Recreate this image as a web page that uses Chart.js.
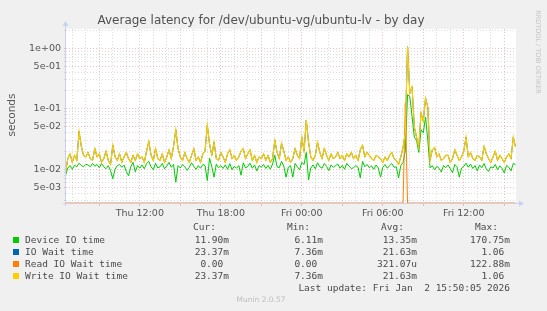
<!DOCTYPE html>
<html>
<head>
<meta charset="utf-8">
<script src="https://cdn.jsdelivr.net/npm/chart.js@4"></script>
<style>
  body { margin: 0; background: #f0f0f0; }
  #wrap { position: relative; width: 547px; height: 311px; overflow: hidden; font-family: 'DejaVu Sans', sans-serif; color: #555; }
  #wrap canvas { position: absolute; left: 0; top: 0; }
  .t { position: absolute; white-space: pre; }
  .mono { font-family: 'DejaVu Sans Mono', monospace; font-size: 9.5px; line-height: 12px; color: #4a4a4a; }
  .sq { position: absolute; width: 6px; height: 6px; }
</style>
</head>
<body>
<div id="wrap">
  <canvas id="latencyChart" width="547" height="311"></canvas>
  <div class="t" style="left:0;width:522px;text-align:center;top:12px;font-size:12px;line-height:16px;color:#505050;">Average latency for /dev/ubuntu-vg/ubuntu-lv - by day</div>
  <div class="t" style="left:-29px;top:108px;width:80px;height:14px;line-height:14px;font-size:10.5px;text-align:center;transform:rotate(-90deg);color:#555;">seconds</div>
  <div class="t" style="left:488px;top:47px;width:100px;height:10px;line-height:10px;font-size:6.5px;text-align:center;transform:rotate(90deg);color:#c4c4c4;">RRDTOOL / TOBI OETIKER</div>
  <div id="legend"></div>
  <div class="t" style="left:0;width:522px;text-align:center;top:295px;font-size:7.5px;line-height:10px;color:#bdbdbd;">Munin 2.0.57</div>
</div>
<script>
// sample times: every 10 minutes, hours counted from Thu 00:00
const startHour = 6.5;
const stepHours = 1 / 6;
const xMin = 6.533;   // Thu 06:32
const xMax = 39.867;  // Fri 15:52

// values in milliseconds
const deviceIO = [
  8.0, 10.5, 11.5, 10.0, 11.7, 11.0, 12.6, 11.5, 11.0, 12.0,
  11.8, 11.0, 12.5, 11.2, 12.0, 10.6, 12.5, 11.0, 10.2, 11.5,
  9.5, 7.0, 10.0, 11.5, 12.0, 10.8, 11.7, 9.2, 7.8, 11.0,
  13.0, 9.1, 11.5, 10.4, 11.8, 10.2, 12.4, 13.5, 11.0, 9.8,
  12.6, 10.5, 11.0, 12.5, 10.2, 11.3, 13.0, 10.8, 12.0, 6.11,
  11.5, 10.5, 12.0, 11.0, 9.6, 10.8, 12.8, 11.2, 10.0, 11.5,
  10.4, 12.0, 11.5, 6.5, 15.3, 11.0, 7.4, 12.2, 10.6, 11.5,
  10.3, 11.8, 10.0, 12.4, 9.8, 11.2, 10.4, 11.5, 8.0, 12.8,
  10.5, 11.2, 12.6, 10.4, 11.8, 9.4, 11.5, 10.8, 12.0, 10.3,
  11.6, 10.0, 12.2, 17.0, 11.0, 10.6, 13.5, 11.2, 7.4, 10.8,
  11.5, 7.4, 12.5, 11.0, 9.8, 13.0, 12.0, 19.0, 6.7, 10.5,
  11.8, 10.2, 12.8, 11.0, 10.4, 12.5, 11.2, 9.5, 11.8, 10.8,
  11.5, 12.2, 10.4, 11.6, 10.0, 12.5, 11.2, 10.3, 10.6, 11.5,
  10.8, 7.2, 13.5, 11.0, 12.0, 10.6, 11.4, 10.0, 11.8, 10.5,
  7.4, 10.8, 12.0, 10.4, 11.5, 12.4, 10.8, 11.0, 7.2, 11.5,
  13.0, 20.0, 170.75, 160.0, 75.0, 34.0, 30.0, 19.0, 45.0, 40.0,
  73.0, 30.0, 10.5, 11.5, 9.8, 11.2, 10.4, 9.0, 11.5, 10.6,
  11.8, 10.2, 8.8, 12.0, 11.0, 7.4, 10.5, 11.2, 12.6, 10.8,
  12.2, 10.3, 11.5, 9.4, 11.8, 10.6, 12.4, 10.2, 9.2, 11.0,
  10.5, 12.0, 9.8, 11.4, 10.3, 8.7, 11.6, 10.8, 9.4, 12.5,
  11.9
];
const writeWait = [
  9, 15, 18, 13, 17, 14, 42, 24, 17, 16,
  19, 15, 14, 22, 16, 18, 13, 15, 20, 14,
  12, 25, 16, 14, 18, 13, 16, 19, 15, 13,
  17, 14, 18, 15, 16, 13, 20, 29, 17, 14,
  22, 15, 14, 18, 13, 16, 21, 15, 24, 45,
  22, 16, 14, 19, 15, 13, 17, 22, 14, 16,
  13, 18, 20, 54, 26, 17, 28, 15, 14, 19,
  16, 13, 18, 21, 15, 17, 14, 16, 20, 22,
  15, 18, 21, 14, 17, 13, 16, 15, 18, 14,
  17, 13, 15, 30, 19, 15, 27, 20, 14, 16,
  13, 15, 22, 17, 15, 34, 20, 65, 28, 16,
  14, 17, 28, 19, 15, 22, 17, 14, 18, 15,
  16, 19, 15, 17, 14, 18, 16, 19, 15, 17,
  14, 21, 25, 16, 19, 17, 15, 14, 17, 16,
  15, 13, 16, 14, 17, 19, 15, 14, 12, 16,
  23, 40, 1060, 180, 230, 50, 34, 23, 86, 62,
  150, 107, 14, 21, 23, 16, 18, 14, 15, 17,
  17, 13, 15, 21, 17, 14, 16, 20, 34, 16,
  19, 15, 14, 17, 16, 14, 24, 18, 15, 13,
  16, 20, 14, 17, 15, 13, 16, 18, 15, 34,
  23.37
];
// IO wait = write wait here (read is zero nearly all day)
const ioWait = writeWait;
const readWait = [
  0, 0, 0, 0, 0, 0, 0, 0, 0, 0, 0, 0, 0, 0, 0, 0, 0, 0, 0, 0,
  0, 0, 0, 0, 0, 0, 0, 0, 0, 0, 0, 0, 0, 0, 0, 0, 0, 0, 0, 0,
  0, 0, 0, 0, 0, 0, 0, 0, 0, 0, 0, 0, 0, 0, 0, 0, 0, 0, 0, 0,
  0, 0, 0, 0, 0, 0, 0, 0, 0, 0, 0, 0, 0, 0, 0, 0, 0, 0, 0, 0,
  0, 0, 0, 0, 0, 0, 0, 0, 0, 0, 0, 0, 0, 0, 0, 0, 0, 0, 0, 0,
  0, 0, 0, 0, 0, 0, 0, 0, 0, 0, 0, 0, 0, 0, 0, 0, 0, 0, 0, 0,
  0, 0, 0, 0, 0, 0, 0, 0, 0, 0, 0, 0, 0, 0, 0, 0, 0, 0, 0, 0,
  0, 0, 0, 0, 0, 0, 0, 0, 0, 0, 0, 122.88, 0, 0, 0, 0, 0, 0, 0, 0,
  0, 0, 0, 0, 0, 0, 0, 0, 0, 0, 0, 0, 0, 0, 0, 0, 0, 0, 0, 0,
  0, 0, 0, 0, 0, 0, 0, 0, 0, 0, 0, 0, 0, 0, 0, 0, 0, 0, 0, 0,
  0
];

const seriesNames = ['Device IO time', 'IO Wait time', 'Read IO Wait time', 'Write IO Wait time'];
const seriesColors = ['#00cc00', '#0066b3', '#ff8000', '#ffcc00'];
const statCur = ['11.90m', '23.37m', '0.00 ', '23.37m'];
const statMin = ['6.11m', '7.36m', '0.00 ', '7.36m'];
const statAvg = ['13.35m', '21.63m', '321.07u', '21.63m'];
const statMax = ['170.75m', '1.06 ', '122.88m', '1.06 '];

const yMin = 0.00277;
const yMax = 2.084;
const yLabelValues = [0.005, 0.01, 0.05, 0.1, 0.5, 1];
const yLabelText = ['5e-03', '1e-02', '5e-02', '1e-01', '5e-01', '1e+00'];
const xLabelHours = [12, 18, 24, 30, 36];
const xLabelText = ['Thu 12:00', 'Thu 18:00', 'Fri 00:00', 'Fri 06:00', 'Fri 12:00'];

const minorGrid = 'rgba(150,150,150,0.32)';
const majorGrid = 'rgba(225,100,100,0.42)';
const axisBlue = '#c9d0f2';

function toPoints(values) {
  // rrdtool puts zero on the floor of a log axis
  return values.map((v, i) => ({ x: startHour + i * stepHours, y: v > 0 ? v / 1000 : yMin }));
}

// legend block
const legend = document.getElementById('legend');
let html = '';
html += '<div class="t mono" style="left:193px;top:221px;">Cur:</div>';
html += '<div class="t mono" style="left:287px;top:221px;">Min:</div>';
html += '<div class="t mono" style="left:381px;top:221px;">Avg:</div>';
html += '<div class="t mono" style="left:475px;top:221px;">Max:</div>';
seriesNames.forEach((name, i) => {
  const top = 234 + i * 12;
  html += '<div class="sq" style="left:13px;top:' + (top + 3) + 'px;background:' + seriesColors[i] + ';"></div>';
  html += '<div class="t mono" style="left:25px;top:' + top + 'px;">' + name + '</div>';
  html += '<div class="t mono" style="right:' + (547 - 229) + 'px;top:' + top + 'px;">' + statCur[i] + '</div>';
  html += '<div class="t mono" style="right:' + (547 - 323) + 'px;top:' + top + 'px;">' + statMin[i] + '</div>';
  html += '<div class="t mono" style="right:' + (547 - 417) + 'px;top:' + top + 'px;">' + statAvg[i] + '</div>';
  html += '<div class="t mono" style="right:' + (547 - 510) + 'px;top:' + top + 'px;">' + statMax[i] + '</div>';
});
html += '<div class="t mono" style="right:' + (547 - 510) + 'px;top:282px;">Last update: Fri Jan  2 15:50:05 2026</div>';
legend.innerHTML = html;

const framePlugin = {
  id: 'frame',
  beforeDraw(chart) {
    const { ctx, chartArea: a } = chart;
    ctx.save();
    ctx.fillStyle = '#ffffff';
    ctx.fillRect(a.left, a.top, a.right - a.left, a.bottom - a.top);
    ctx.restore();
  },
  beforeDatasetsDraw(chart) {
    const { ctx, chartArea: a } = chart;
    ctx.save();
    ctx.strokeStyle = axisBlue;
    ctx.lineWidth = 1;
    ctx.beginPath();
    ctx.moveTo(a.left - 0.5, a.bottom + 3);
    ctx.lineTo(a.left - 0.5, a.top - 5);
    ctx.moveTo(a.left - 3, a.bottom + 0.5);
    ctx.lineTo(a.right + 4, a.bottom + 0.5);
    ctx.stroke();
    ctx.fillStyle = axisBlue;
    ctx.beginPath();
    ctx.moveTo(a.left - 3.5, a.top - 3);
    ctx.lineTo(a.left - 0.5, a.top - 8);
    ctx.lineTo(a.left + 2.5, a.top - 3);
    ctx.fill();
    ctx.beginPath();
    ctx.moveTo(a.right + 3, a.bottom - 2.5);
    ctx.lineTo(a.right + 8, a.bottom + 0.5);
    ctx.lineTo(a.right + 3, a.bottom + 3.5);
    ctx.fill();
    ctx.restore();
  }
};

const tickFont = { family: 'DejaVu Sans', size: 9.5 };

new Chart(document.getElementById('latencyChart').getContext('2d'), {
  type: 'line',
  data: {
    datasets: [
      { label: seriesNames[0], data: toPoints(deviceIO), borderColor: seriesColors[0], order: 4 },
      { label: seriesNames[1], data: toPoints(ioWait), borderColor: seriesColors[1], order: 3 },
      { label: seriesNames[2], data: toPoints(readWait), borderColor: seriesColors[2], order: 2 },
      { label: seriesNames[3], data: toPoints(writeWait), borderColor: seriesColors[3], order: 1, borderWidth: 1.2 }
    ]
  },
  options: {
    responsive: false,
    animation: false,
    devicePixelRatio: 1,
    layout: { padding: { left: 0, top: 29, right: 31, bottom: 88 } },
    plugins: { legend: { display: false }, tooltip: { enabled: false }, title: { display: false } },
    elements: { point: { radius: 0 }, line: { borderWidth: 1, tension: 0, fill: false } },
    scales: {
      x: {
        type: 'linear',
        min: xMin,
        max: xMax,
        afterBuildTicks(scale) {
          const ticks = [];
          for (let h = Math.ceil(xMin); h <= xMax; h++) ticks.push({ value: h });
          scale.ticks = ticks;
        },
        afterFit(scale) { scale.height = 20; },
        ticks: {
          autoSkip: false,
          maxRotation: 0,
          padding: 2,
          font: tickFont,
          color: '#555',
          callback(value) {
            const k = xLabelHours.indexOf(value);
            return k >= 0 ? xLabelText[k] : '';
          }
        },
        grid: {
          color: (c) => (c.tick && c.tick.value % 3 === 0 ? majorGrid : minorGrid),
          tickColor: (c) => (c.tick && c.tick.value % 3 === 0 ? majorGrid : 'rgba(0,0,0,0)'),
          tickLength: 3,
          lineWidth: 1
        },
        border: { display: false, dash: [1, 2] }
      },
      y: {
        type: 'logarithmic',
        min: yMin,
        max: yMax,
        afterBuildTicks(scale) {
          const ticks = [];
          for (let e = -3; e <= 0; e++) {
            for (let m = 1; m <= 9; m++) {
              const v = m * Math.pow(10, e);
              if (v >= yMin && v <= yMax) ticks.push({ value: v });
            }
          }
          scale.ticks = ticks;
        },
        afterFit(scale) { scale.width = 66; },
        ticks: {
          autoSkip: false,
          padding: 3,
          font: tickFont,
          color: '#555',
          callback(value) {
            const k = yLabelValues.findIndex((v) => Math.abs(v - value) / v < 1e-6);
            return k >= 0 ? yLabelText[k] : '';
          }
        },
        grid: {
          color: (c) => {
            if (!c.tick) return minorGrid;
            const k = yLabelValues.findIndex((v) => Math.abs(v - c.tick.value) / v < 1e-6);
            return k >= 0 ? majorGrid : minorGrid;
          },
          tickColor: (c) => {
            if (!c.tick) return minorGrid;
            const k = yLabelValues.findIndex((v) => Math.abs(v - c.tick.value) / v < 1e-6);
            return k >= 0 ? majorGrid : minorGrid;
          },
          tickLength: 2,
          lineWidth: 1
        },
        border: { display: false, dash: [1, 2] }
      }
    }
  },
  plugins: [framePlugin]
});
</script>
</body>
</html>
